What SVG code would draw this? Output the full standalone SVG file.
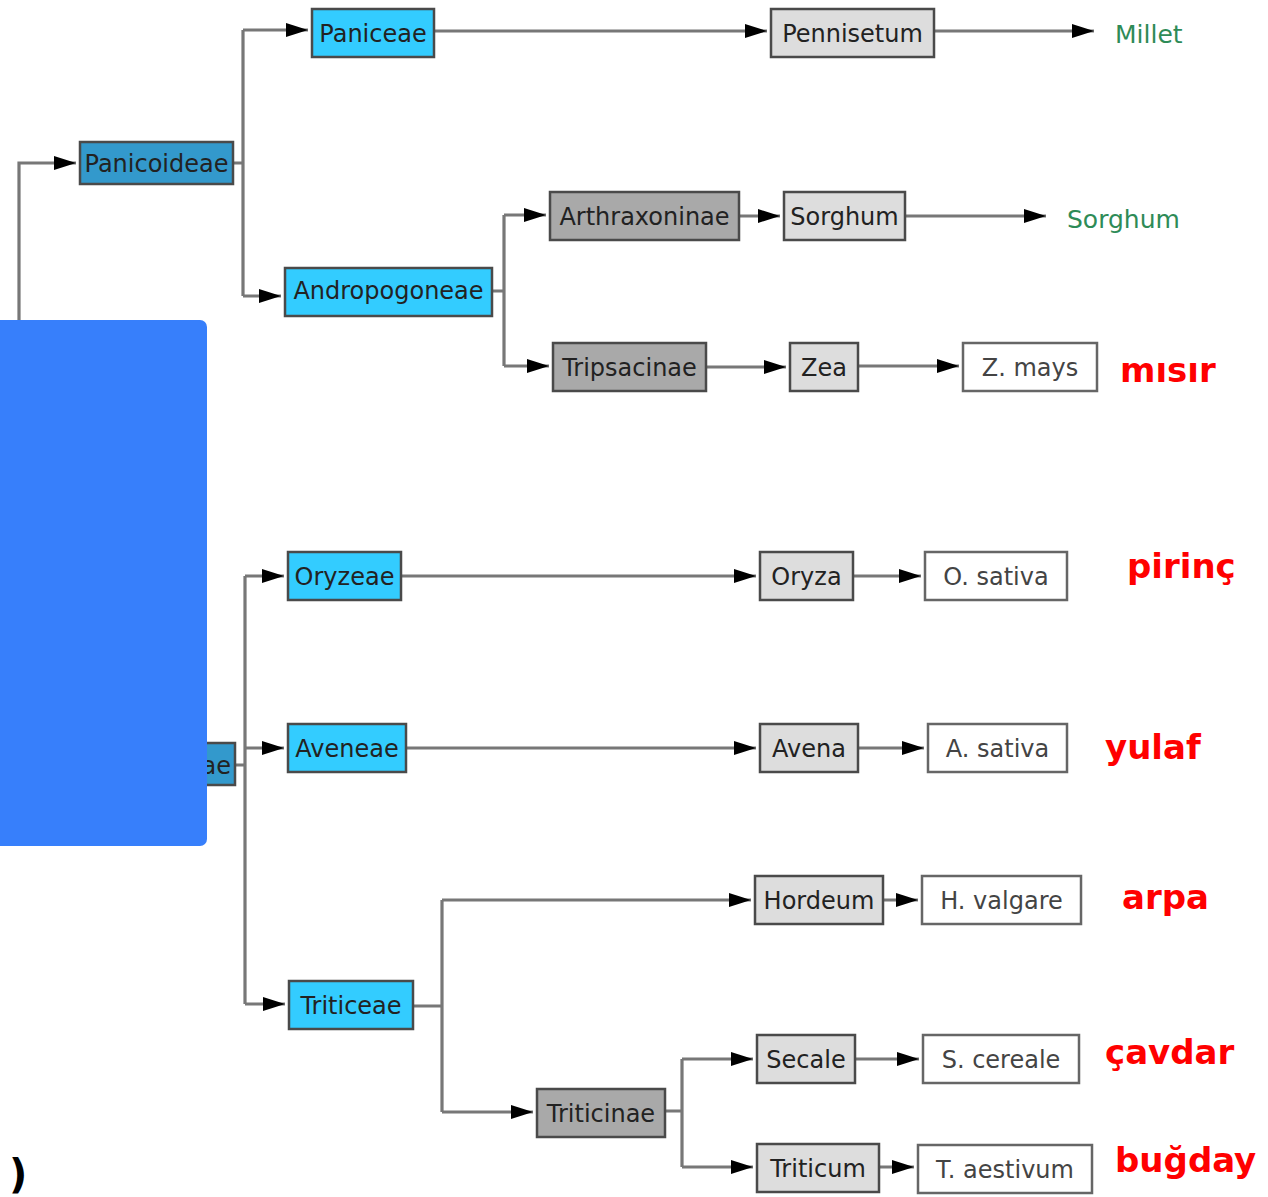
<svg xmlns="http://www.w3.org/2000/svg" width="1268" height="1197" viewBox="0 0 1268 1197">
<style>
.box{stroke:#4a4a4a;stroke-width:2.5}
.c1{fill:#3399cc}
.c2{fill:#33ccff}
.c3{fill:#a9a9a9}
.c4{fill:#dddddd}
.c5{fill:#ffffff;stroke:#666}
.t{font-family:"DejaVu Sans",Verdana,sans-serif;font-size:24px;fill:#222;text-anchor:middle}
.tw{fill:#444}
.g{font-family:"DejaVu Sans",Verdana,sans-serif;font-size:25px;fill:#2e8b57}
.r{font-family:"Comic Sans MS","DejaVu Sans",sans-serif;font-weight:bold;font-size:34px;fill:#ff0000}
.ln{fill:none;stroke:#777;stroke-width:3.2}
.ar{marker-end:url(#ah)}
</style>
<defs>
<marker id="ah" viewBox="0 0 22 14" refX="22" refY="7" markerWidth="22" markerHeight="14" markerUnits="userSpaceOnUse" orient="auto">
<path d="M0,0 L22,7 L0,14 z" fill="#000"/>
</marker>
</defs>
<rect width="1268" height="1197" fill="#fff"/>
<g id="connectors">
<path class="ln ar" d="M19,330 V163 H76"/>
<path class="ln" d="M233,163 H243 M243,30 V296"/>
<path class="ln ar" d="M243,30 H308"/>
<path class="ln ar" d="M243,296 H281"/>
<path class="ln ar" d="M434,31 H767"/>
<path class="ln ar" d="M934,31 H1094"/>
<path class="ln" d="M492,291 H504 M504,215 V366"/>
<path class="ln ar" d="M504,215 H546"/>
<path class="ln ar" d="M504,366 H549"/>
<path class="ln ar" d="M739,216 H780"/>
<path class="ln ar" d="M905,216 H1046"/>
<path class="ln ar" d="M706,367 H786"/>
<path class="ln ar" d="M858,366 H959"/>
<path class="ln" d="M235,765 H245 M245,576 V1004"/>
<path class="ln ar" d="M245,576 H284"/>
<path class="ln ar" d="M245,748 H284"/>
<path class="ln ar" d="M245,1004 H285"/>
<path class="ln ar" d="M401,576 H756"/>
<path class="ln ar" d="M853,576 H921"/>
<path class="ln ar" d="M406,748 H756"/>
<path class="ln ar" d="M858,748 H924"/>
<path class="ln" d="M413,1006 H442 M442,900 V1112"/>
<path class="ln ar" d="M442,900 H751"/>
<path class="ln ar" d="M442,1112 H533"/>
<path class="ln ar" d="M883,900 H918"/>
<path class="ln" d="M665,1111 H682 M682,1059 V1167"/>
<path class="ln ar" d="M682,1059 H753"/>
<path class="ln ar" d="M682,1167 H753"/>
<path class="ln ar" d="M855,1059 H919"/>
<path class="ln ar" d="M879,1167 H914"/>
</g>
<g id="n-panicoideae"><rect class="box c1" x="80" y="142" width="153" height="42"/><text class="t" x="156.5" y="172">Panicoideae</text></g>
<g id="n-paniceae"><rect class="box c2" x="312" y="9" width="122" height="48"/><text class="t" x="373" y="42">Paniceae</text></g>
<g id="n-pennisetum"><rect class="box c4" x="771" y="9" width="163" height="48"/><text class="t" x="852.5" y="42">Pennisetum</text></g>
<g id="n-millet"><text class="g" x="1115" y="43">Millet</text></g>
<g id="n-andropogoneae"><rect class="box c2" x="285" y="268" width="207" height="48"/><text class="t" x="388.5" y="299">Andropogoneae</text></g>
<g id="n-arthraxoninae"><rect class="box c3" x="550" y="192" width="189" height="48"/><text class="t" x="644.5" y="225">Arthraxoninae</text></g>
<g id="n-sorghum"><rect class="box c4" x="784" y="192" width="121" height="48"/><text class="t" x="844.5" y="225">Sorghum</text></g>
<g id="n-sorghum-en"><text class="g" x="1067" y="228">Sorghum</text></g>
<g id="n-tripsacinae"><rect class="box c3" x="553" y="343" width="153" height="48"/><text class="t" x="629.5" y="376">Tripsacinae</text></g>
<g id="n-zea"><rect class="box c4" x="790" y="343" width="68" height="48"/><text class="t" x="824" y="376">Zea</text></g>
<g id="n-zmays"><rect class="box c5" x="963" y="343" width="134" height="48"/><text class="t tw" x="1030" y="376">Z. mays</text></g>
<g id="n-misir"><text class="r" x="1120" y="382">mısır</text></g>
<g id="n-pooideae"><rect class="box c1" x="150" y="743" width="85" height="42"/><text class="t" x="231" y="774" style="text-anchor:end">ae</text></g>
<g id="n-oryzeae"><rect class="box c2" x="288" y="552" width="113" height="48"/><text class="t" x="344.5" y="585">Oryzeae</text></g>
<g id="n-oryza"><rect class="box c4" x="760" y="552" width="93" height="48"/><text class="t" x="806.5" y="585">Oryza</text></g>
<g id="n-osativa"><rect class="box c5" x="925" y="552" width="142" height="48"/><text class="t tw" x="996" y="585">O. sativa</text></g>
<g id="n-pirinc"><text class="r" x="1127" y="578">pirinç</text></g>
<g id="n-aveneae"><rect class="box c2" x="288" y="724" width="118" height="48"/><text class="t" x="347" y="757">Aveneae</text></g>
<g id="n-avena"><rect class="box c4" x="760" y="724" width="98" height="48"/><text class="t" x="809" y="757">Avena</text></g>
<g id="n-asativa"><rect class="box c5" x="928" y="724" width="139" height="48"/><text class="t tw" x="997.5" y="757">A. sativa</text></g>
<g id="n-yulaf"><text class="r" x="1105" y="759">yulaf</text></g>
<g id="n-triticeae"><rect class="box c2" x="289" y="981" width="124" height="48"/><text class="t" x="351" y="1014">Triticeae</text></g>
<g id="n-hordeum"><rect class="box c4" x="755" y="876" width="128" height="48"/><text class="t" x="819" y="909">Hordeum</text></g>
<g id="n-hvalgare"><rect class="box c5" x="922" y="876" width="159" height="48"/><text class="t tw" x="1001.5" y="909">H. valgare</text></g>
<g id="n-arpa"><text class="r" x="1122" y="909">arpa</text></g>
<g id="n-triticinae"><rect class="box c3" x="537" y="1089" width="128" height="48"/><text class="t" x="601" y="1122">Triticinae</text></g>
<g id="n-secale"><rect class="box c4" x="757" y="1035" width="98" height="48"/><text class="t" x="806" y="1068">Secale</text></g>
<g id="n-scereale"><rect class="box c5" x="923" y="1035" width="156" height="48"/><text class="t tw" x="1001" y="1068">S. cereale</text></g>
<g id="n-cavdar"><text class="r" x="1105" y="1064">çavdar</text></g>
<g id="n-triticum"><rect class="box c4" x="757" y="1144" width="122" height="48"/><text class="t" x="818" y="1177">Triticum</text></g>
<g id="n-taestivum"><rect class="box c5" x="918" y="1145" width="174" height="48"/><text class="t tw" x="1005" y="1178">T. aestivum</text></g>
<g id="n-bugday"><text class="r" x="1115" y="1172">buğday</text></g>
<rect id="cover" x="-10" y="320" width="217" height="526" rx="7" fill="#377ffb"/>
<text x="9" y="1188" font-family="DejaVu Sans, sans-serif" font-weight="bold" font-size="40" fill="#000">)</text>
</svg>
